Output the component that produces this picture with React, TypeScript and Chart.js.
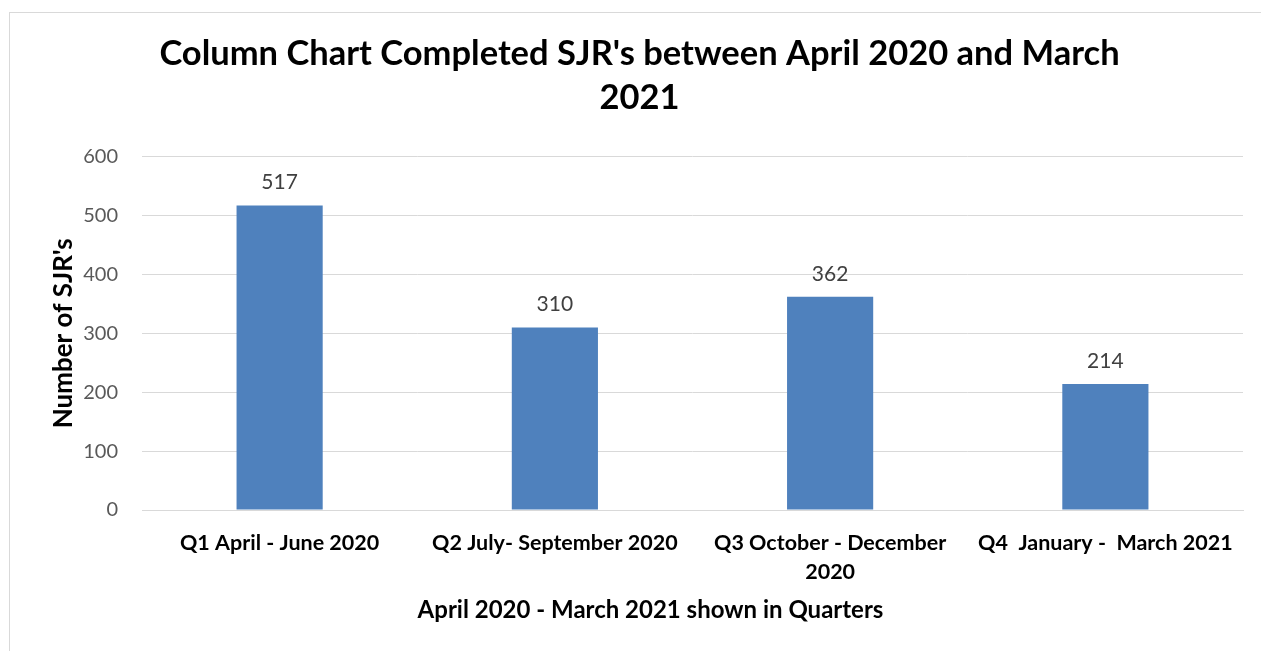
import React, { useEffect, useRef } from "react";
import { Chart, registerables } from "chart.js";

Chart.register(...registerables);

const categories: (string | string[])[] = [
  "Q1 April - June 2020",
  "Q2 July- September 2020",
  ["Q3 October - December", "2020"],
  "Q4  January -  March 2021",
];
const completedSJRs = [517, 310, 362, 214];
const titleLines = ["Column Chart Completed SJR's between April 2020 and March", "2021"];
const xAxisTitle = "April 2020 - March 2021 shown in Quarters";
const yAxisTitle = "Number of SJR's";

const FONT = "Lato, 'Open Sans', sans-serif";

const dataLabels = {
  id: "dataLabels",
  afterDatasetsDraw(chart: any) {
    const { ctx } = chart;
    const meta = chart.getDatasetMeta(0);
    const ds = chart.data.datasets[0];
    ctx.save();
    ctx.fillStyle = "#404040";
    ctx.font = `21px ${FONT}`;
    ctx.textAlign = "center";
    ctx.textBaseline = "middle";
    meta.data.forEach((bar: any, i: number) => {
      ctx.fillText(String(ds.data[i]), bar.x, bar.y - 23);
    });
    ctx.restore();
  },
};

// Excel centres the horizontal axis title on the whole chart, not on the plot area
const xTitlePlugin = {
  id: "xTitle",
  afterDraw(chart: any) {
    const { ctx } = chart;
    ctx.save();
    ctx.fillStyle = "#000";
    ctx.font = `bold 24px ${FONT}`;
    ctx.textAlign = "center";
    ctx.textBaseline = "middle";
    ctx.fillText(xAxisTitle, chart.width / 2 + 20, chart.height - 41);
    ctx.restore();
  },
};

export default function App() {
  const ref = useRef<HTMLCanvasElement>(null);
  useEffect(() => {
    const chart = new Chart(ref.current!, {
      type: "bar",
      data: {
        labels: categories,
        datasets: [
          {
            data: completedSJRs,
            backgroundColor: "#4F81BD",
            barPercentage: 0.313,
            categoryPercentage: 1,
          },
        ],
      },
      plugins: [dataLabels, xTitlePlugin],
      options: {
        animation: false,
        responsive: false,
        layout: { padding: { left: 36, right: 18, top: 0, bottom: 0 } },
        plugins: {
          legend: { display: false },
          tooltip: { enabled: false },
          title: {
            display: true,
            text: titleLines,
            color: "#000",
            font: { family: FONT, size: 34.5, weight: "bold", lineHeight: 1.3 },
            padding: { top: 31, bottom: 36 },
          },
        },
        scales: {
          x: {
            grid: { display: false },
            border: { display: true, color: "#d9d9d9" },
            ticks: {
              color: "#000",
              font: { family: FONT, size: 21.5, weight: "bold", lineHeight: 1.37 },
              padding: 10,
              maxRotation: 0,
              autoSkip: false,
            },
            title: { display: false },
            afterFit(scale: any) {
              scale.height = 141;
            },
          },
          y: {
            min: 0,
            max: 600,
            ticks: {
              stepSize: 100,
              color: "#595959",
              font: { family: FONT, size: 20 },
              padding: 24,
            },
            grid: { color: "#d9d9d9", lineWidth: 1, drawTicks: false },
            border: { display: false },
            title: {
              display: true,
              text: yAxisTitle,
              color: "#000",
              font: { family: FONT, size: 26, weight: "bold", lineHeight: 1.2 },
              padding: { top: 12, bottom: 0 },
            },
            afterFit(scale: any) {
              scale.width = 106;
            },
          },
        },
      },
    });
    return () => chart.destroy();
  }, []);

  return (
    <div
      style={{
        position: "fixed",
        left: 0,
        top: 0,
        width: 1261,
        height: 651,
        background: "#fff",
        overflow: "hidden",
      }}
    >
      <div
        style={{
          position: "absolute",
          left: 9,
          top: 12,
          width: 1400,
          height: 800,
          border: "1px solid #d9d9d9",
          boxSizing: "border-box",
        }}
      />
      <canvas
        ref={ref}
        width={1261}
        height={651}
        style={{ position: "absolute", left: 0, top: 0, width: 1261, height: 651 }}
      />
    </div>
  );
}
